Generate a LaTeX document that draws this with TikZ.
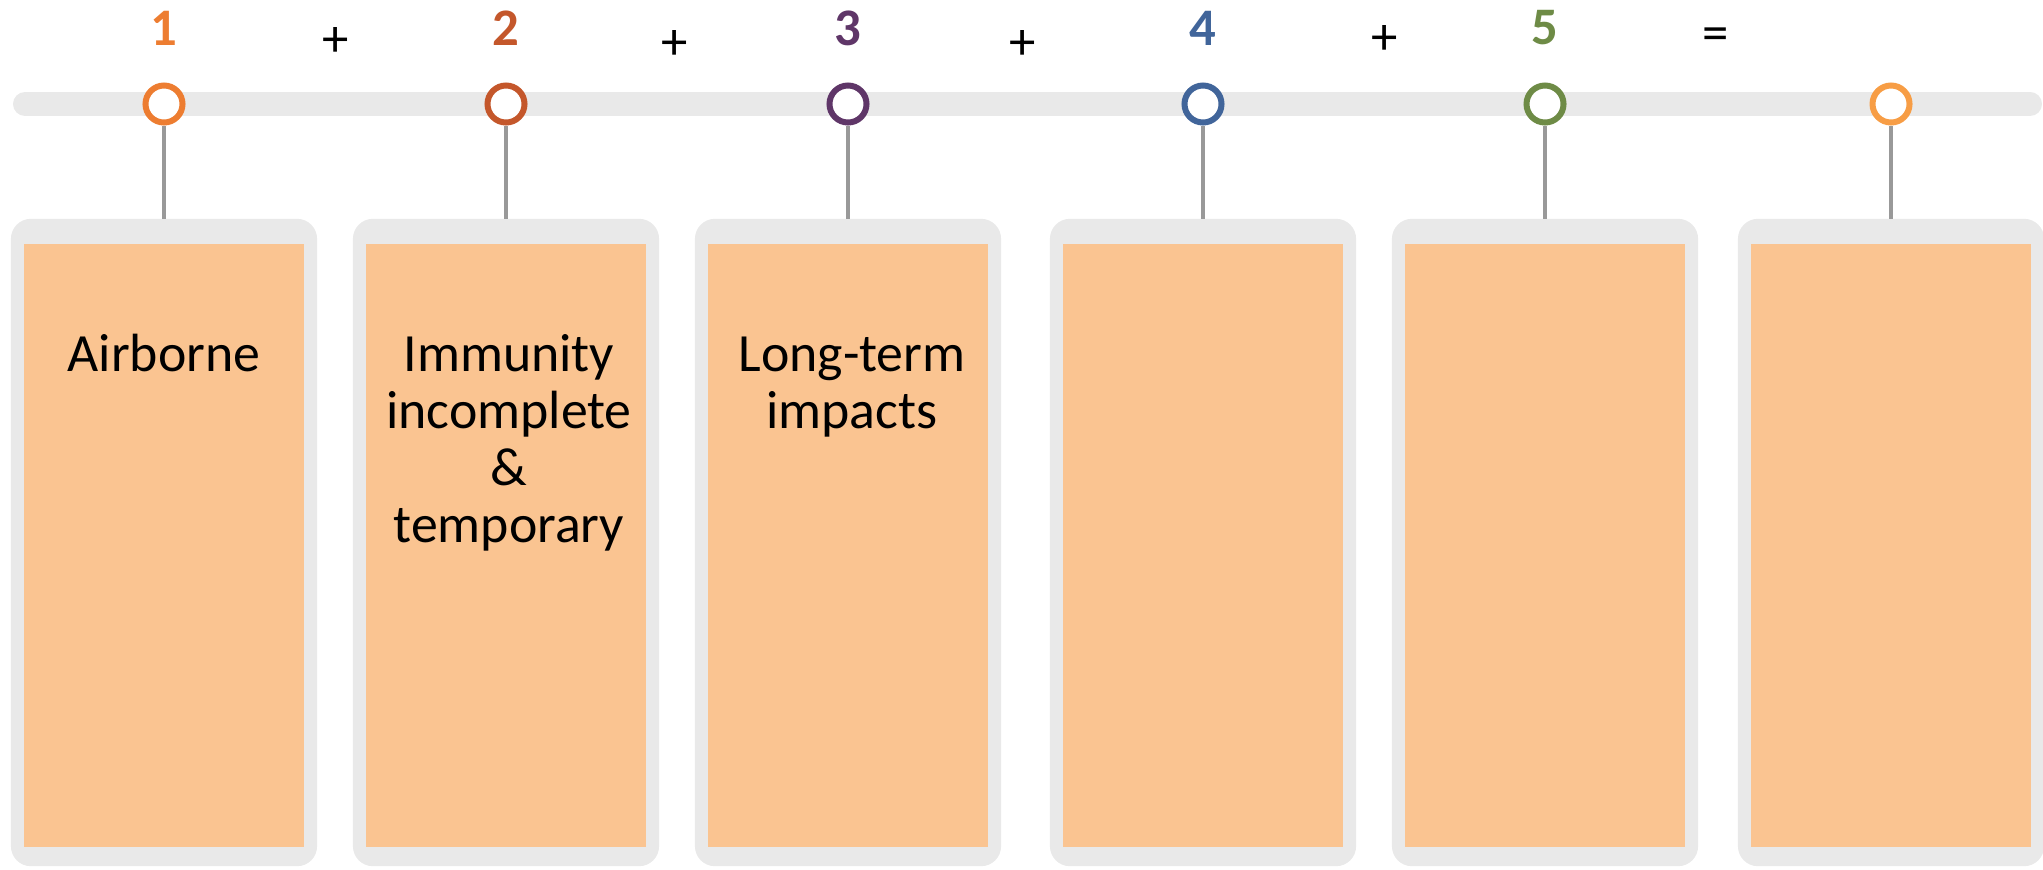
\documentclass[tikz,border=0pt]{standalone}
\usepackage{fontspec}
\setmainfont{Carlito}
\usetikzlibrary{calc}
\definecolor{railgrey}{HTML}{E9E9E9}
\definecolor{stemgrey}{HTML}{999999}
\definecolor{cardfill}{HTML}{FAC491}
\definecolor{stepA}{HTML}{ED7D31}
\definecolor{stepB}{HTML}{C4572B}
\definecolor{stepC}{HTML}{5F3668}
\definecolor{stepD}{HTML}{41659A}
\definecolor{stepE}{HTML}{6E8B46}
\definecolor{stepF}{HTML}{F79D45}

\begin{document}
\begin{tikzpicture}[x=0.01cm, y=-0.01cm,
    card/.style={rectangle, rounded corners=0.2cm, fill=railgrey,
        minimum width=3.06cm, minimum height=6.47cm, inner sep=0pt, outer sep=0pt},
    cardin/.style={rectangle, fill=cardfill,
        minimum width=2.80cm, minimum height=6.03cm, inner sep=0pt},
    ring/.style={circle, fill=white, line width=0.06cm,
        minimum size=0.37cm, inner sep=0pt},
    stepnum/.style={font=\fontsize{15}{15}\selectfont\bfseries, inner sep=0pt},
    op/.style={font=\fontsize{15}{15}\selectfont, inner sep=0pt},
    cardtext/.style={font=\fontsize{15.3}{16.2}\selectfont, align=center,
        anchor=base, inner sep=0pt}]

\useasboundingbox (0,0) rectangle (2043,869);

% --- RAIL ---
\coordinate (railL) at (25,104);
\coordinate (railR) at (2030,104);
\draw[railgrey, line width=0.24cm, line cap=round] (railL) -- (railR);

% --- COLUMNS: card, ring, stem ---
\foreach \i/\x/\col in {1/164/stepA, 2/506/stepB, 3/848/stepC,
                        4/1203/stepD, 5/1545/stepE, 6/1891/stepF} {
    \node[card] (card\i) at (\x,542.5) {};
    \node[cardin] (inner\i) at (\x,545.5) {};
    \node[ring, draw=\col] (ring\i) at (\x,104) {};
    \draw[stemgrey, line width=0.045cm] (ring\i.south) -- (card\i.north);
}

% --- NUMBERS ---
\foreach \i/\x/\col in {1/164/stepA, 2/506/stepB, 3/848/stepC,
                        4/1203/stepD, 5/1545/stepE} {
    \node[stepnum, text=\col] (num\i) at (\x,28) {\i};
}

% --- OPERATORS ---
\node[op] (plus1) at (336,42) {+};
\node[op] (plus2) at (675,45) {+};
\node[op] (plus3) at (1023,45) {+};
\node[op] (plus4) at (1385,40) {+};
\node[op] (equals) at (1716,39) {=};

% --- CARD TEXT (base = last line) ---
\node[cardtext] (txt1) at (164,371) {Airborne};
\node[cardtext] (txt2) at (509,542.5) {Immunity\\incomplete\\\&\\temporary};
\node[cardtext] (txt3) at (852,428) {Long-term\\impacts};

\end{tikzpicture}
\end{document}
